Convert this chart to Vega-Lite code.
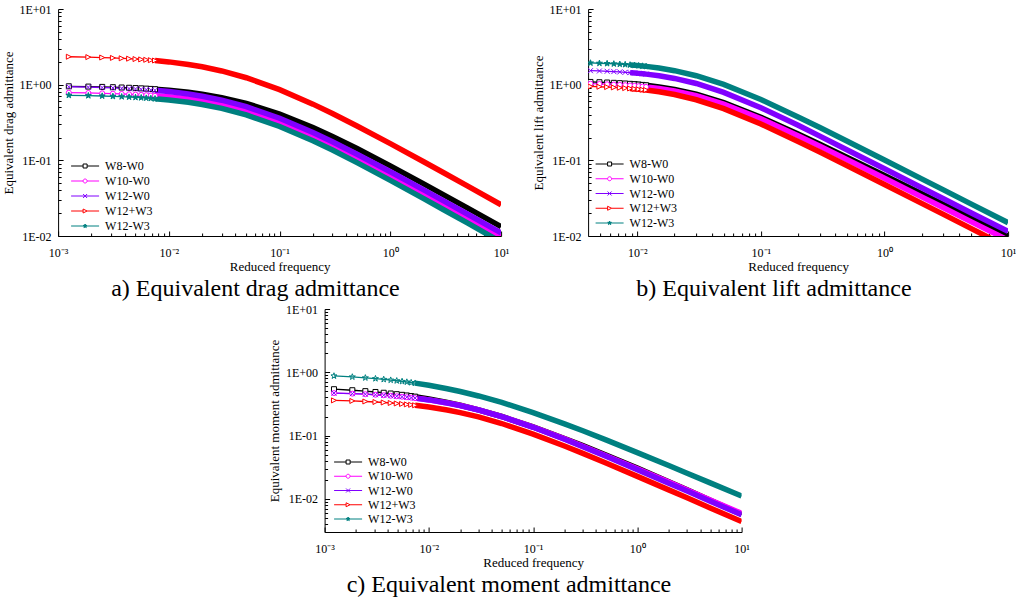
{
"$schema": "https://vega.github.io/schema/vega-lite/v6.json",
"padding": {"left": 2, "top": 3, "right": 0, "bottom": 0},
"config": {
  "view": {"stroke": null},
  "font": "Liberation Serif",
  "axis": {"domainColor": "black", "tickColor": "black", "labelColor": "black", "titleColor": "black", "labelFont": "Liberation Serif", "titleFont": "Liberation Serif", "labelFontSize": 12, "titleFontSize": 13, "titleFontWeight": "normal", "grid": false, "labelFlush": false, "labelOverlap": false, "domainWidth": 1, "tickWidth": 1}
},
"data": {"values": [
{"p":"a","s":"W8-W0","f":0.00125,"v":0.9519},{"p":"a","s":"W8-W0","f":0.001875,"v":0.9431},{"p":"a","s":"W8-W0","f":0.0025,"v":0.9345},{"p":"a","s":"W8-W0","f":0.003125,"v":0.926},{"p":"a","s":"W8-W0","f":0.00375,"v":0.9178},{"p":"a","s":"W8-W0","f":0.004375,"v":0.9097},{"p":"a","s":"W8-W0","f":0.005,"v":0.9017},{"p":"a","s":"W8-W0","f":0.005625,"v":0.8939},{"p":"a","s":"W8-W0","f":0.00625,"v":0.8863},{"p":"a","s":"W8-W0","f":0.006875,"v":0.8788},{"p":"a","s":"W8-W0","f":0.0075,"v":0.8714},{"p":"a","s":"W8-W0","f":0.01,"v":0.8433},{"p":"a","s":"W8-W0","f":0.015,"v":0.7926},{"p":"a","s":"W8-W0","f":0.02,"v":0.7482},{"p":"a","s":"W8-W0","f":0.03,"v":0.6741},{"p":"a","s":"W8-W0","f":0.05,"v":0.5655},{"p":"a","s":"W8-W0","f":0.1,"v":0.4095},{"p":"a","s":"W8-W0","f":0.2,"v":0.2715},{"p":"a","s":"W8-W0","f":0.3,"v":0.2068},{"p":"a","s":"W8-W0","f":0.5,"v":0.1432},{"p":"a","s":"W8-W0","f":1,"v":0.0845},{"p":"a","s":"W8-W0","f":2,"v":0.0489},{"p":"a","s":"W8-W0","f":3,"v":0.0353},{"p":"a","s":"W8-W0","f":5,"v":0.0234},{"p":"a","s":"W8-W0","f":10,"v":0.0133},
{"p":"a","s":"W10-W0","f":0.00125,"v":0.7842},{"p":"a","s":"W10-W0","f":0.001875,"v":0.7766},{"p":"a","s":"W10-W0","f":0.0025,"v":0.7691},{"p":"a","s":"W10-W0","f":0.003125,"v":0.7617},{"p":"a","s":"W10-W0","f":0.00375,"v":0.7545},{"p":"a","s":"W10-W0","f":0.004375,"v":0.7475},{"p":"a","s":"W10-W0","f":0.005,"v":0.7406},{"p":"a","s":"W10-W0","f":0.005625,"v":0.7339},{"p":"a","s":"W10-W0","f":0.00625,"v":0.7272},{"p":"a","s":"W10-W0","f":0.006875,"v":0.7208},{"p":"a","s":"W10-W0","f":0.0075,"v":0.7144},{"p":"a","s":"W10-W0","f":0.01,"v":0.6901},{"p":"a","s":"W10-W0","f":0.015,"v":0.6466},{"p":"a","s":"W10-W0","f":0.02,"v":0.6087},{"p":"a","s":"W10-W0","f":0.03,"v":0.5457},{"p":"a","s":"W10-W0","f":0.05,"v":0.4542},{"p":"a","s":"W10-W0","f":0.1,"v":0.3249},{"p":"a","s":"W10-W0","f":0.2,"v":0.2125},{"p":"a","s":"W10-W0","f":0.3,"v":0.1605},{"p":"a","s":"W10-W0","f":0.5,"v":0.11},{"p":"a","s":"W10-W0","f":1,"v":0.064},{"p":"a","s":"W10-W0","f":2,"v":0.0365},{"p":"a","s":"W10-W0","f":3,"v":0.0261},{"p":"a","s":"W10-W0","f":5,"v":0.0171},{"p":"a","s":"W10-W0","f":10,"v":0.0096},
{"p":"a","s":"W12-W0","f":0.00125,"v":0.9379},{"p":"a","s":"W12-W0","f":0.001875,"v":0.9272},{"p":"a","s":"W12-W0","f":0.0025,"v":0.9168},{"p":"a","s":"W12-W0","f":0.003125,"v":0.9067},{"p":"a","s":"W12-W0","f":0.00375,"v":0.8968},{"p":"a","s":"W12-W0","f":0.004375,"v":0.8871},{"p":"a","s":"W12-W0","f":0.005,"v":0.8777},{"p":"a","s":"W12-W0","f":0.005625,"v":0.8685},{"p":"a","s":"W12-W0","f":0.00625,"v":0.8595},{"p":"a","s":"W12-W0","f":0.006875,"v":0.8507},{"p":"a","s":"W12-W0","f":0.0075,"v":0.8421},{"p":"a","s":"W12-W0","f":0.01,"v":0.8096},{"p":"a","s":"W12-W0","f":0.015,"v":0.7522},{"p":"a","s":"W12-W0","f":0.02,"v":0.7031},{"p":"a","s":"W12-W0","f":0.03,"v":0.6235},{"p":"a","s":"W12-W0","f":0.05,"v":0.5116},{"p":"a","s":"W12-W0","f":0.1,"v":0.3598},{"p":"a","s":"W12-W0","f":0.2,"v":0.2331},{"p":"a","s":"W12-W0","f":0.3,"v":0.1758},{"p":"a","s":"W12-W0","f":0.5,"v":0.1206},{"p":"a","s":"W12-W0","f":1,"v":0.0706},{"p":"a","s":"W12-W0","f":2,"v":0.0407},{"p":"a","s":"W12-W0","f":3,"v":0.0294},{"p":"a","s":"W12-W0","f":5,"v":0.0194},{"p":"a","s":"W12-W0","f":10,"v":0.011},
{"p":"a","s":"W12+W3","f":0.00125,"v":2.34},{"p":"a","s":"W12+W3","f":0.001875,"v":2.312},{"p":"a","s":"W12+W3","f":0.0025,"v":2.284},{"p":"a","s":"W12+W3","f":0.003125,"v":2.257},{"p":"a","s":"W12+W3","f":0.00375,"v":2.23},{"p":"a","s":"W12+W3","f":0.004375,"v":2.205},{"p":"a","s":"W12+W3","f":0.005,"v":2.18},{"p":"a","s":"W12+W3","f":0.005625,"v":2.155},{"p":"a","s":"W12+W3","f":0.00625,"v":2.131},{"p":"a","s":"W12+W3","f":0.006875,"v":2.108},{"p":"a","s":"W12+W3","f":0.0075,"v":2.085},{"p":"a","s":"W12+W3","f":0.01,"v":2.0},{"p":"a","s":"W12+W3","f":0.015,"v":1.849},{"p":"a","s":"W12+W3","f":0.02,"v":1.722},{"p":"a","s":"W12+W3","f":0.03,"v":1.518},{"p":"a","s":"W12+W3","f":0.05,"v":1.235},{"p":"a","s":"W12+W3","f":0.1,"v":0.86},{"p":"a","s":"W12+W3","f":0.2,"v":0.553},{"p":"a","s":"W12+W3","f":0.3,"v":0.416},{"p":"a","s":"W12+W3","f":0.5,"v":0.2846},{"p":"a","s":"W12+W3","f":1,"v":0.1662},{"p":"a","s":"W12+W3","f":2,"v":0.0957},{"p":"a","s":"W12+W3","f":3,"v":0.069},{"p":"a","s":"W12+W3","f":5,"v":0.0456},{"p":"a","s":"W12+W3","f":10,"v":0.0259},
{"p":"a","s":"W12-W3","f":0.00125,"v":0.724},{"p":"a","s":"W12-W3","f":0.001875,"v":0.7161},{"p":"a","s":"W12-W3","f":0.0025,"v":0.7084},{"p":"a","s":"W12-W3","f":0.003125,"v":0.7009},{"p":"a","s":"W12-W3","f":0.00375,"v":0.6935},{"p":"a","s":"W12-W3","f":0.004375,"v":0.6863},{"p":"a","s":"W12-W3","f":0.005,"v":0.6792},{"p":"a","s":"W12-W3","f":0.005625,"v":0.6723},{"p":"a","s":"W12-W3","f":0.00625,"v":0.6655},{"p":"a","s":"W12-W3","f":0.006875,"v":0.6589},{"p":"a","s":"W12-W3","f":0.0075,"v":0.6524},{"p":"a","s":"W12-W3","f":0.01,"v":0.6273},{"p":"a","s":"W12-W3","f":0.015,"v":0.5839},{"p":"a","s":"W12-W3","f":0.02,"v":0.5463},{"p":"a","s":"W12-W3","f":0.03,"v":0.4853},{"p":"a","s":"W12-W3","f":0.05,"v":0.3983},{"p":"a","s":"W12-W3","f":0.1,"v":0.2803},{"p":"a","s":"W12-W3","f":0.2,"v":0.1815},{"p":"a","s":"W12-W3","f":0.3,"v":0.1369},{"p":"a","s":"W12-W3","f":0.5,"v":0.0932},{"p":"a","s":"W12-W3","f":1,"v":0.0544},{"p":"a","s":"W12-W3","f":2,"v":0.0312},{"p":"a","s":"W12-W3","f":3,"v":0.0224},{"p":"a","s":"W12-W3","f":5,"v":0.0148},{"p":"a","s":"W12-W3","f":10,"v":0.0083},
{"p":"b","s":"W8-W0","f":0.00418,"v":1.0861},{"p":"b","s":"W8-W0","f":0.00494,"v":1.077},{"p":"b","s":"W8-W0","f":0.0057,"v":1.0674},{"p":"b","s":"W8-W0","f":0.00646,"v":1.0574},{"p":"b","s":"W8-W0","f":0.00722,"v":1.0471},{"p":"b","s":"W8-W0","f":0.00798,"v":1.0365},{"p":"b","s":"W8-W0","f":0.00874,"v":1.0258},{"p":"b","s":"W8-W0","f":0.0095,"v":1.0148},{"p":"b","s":"W8-W0","f":0.01026,"v":1.0038},{"p":"b","s":"W8-W0","f":0.01102,"v":0.9928},{"p":"b","s":"W8-W0","f":0.01178,"v":0.9817},{"p":"b","s":"W8-W0","f":0.015,"v":0.935},{"p":"b","s":"W8-W0","f":0.02,"v":0.8659},{"p":"b","s":"W8-W0","f":0.03,"v":0.7466},{"p":"b","s":"W8-W0","f":0.05,"v":0.5785},{"p":"b","s":"W8-W0","f":0.1,"v":0.3711},{"p":"b","s":"W8-W0","f":0.2,"v":0.223},{"p":"b","s":"W8-W0","f":0.3,"v":0.1632},{"p":"b","s":"W8-W0","f":0.5,"v":0.1093},{"p":"b","s":"W8-W0","f":1,"v":0.063},{"p":"b","s":"W8-W0","f":2,"v":0.0363},{"p":"b","s":"W8-W0","f":3,"v":0.0262},{"p":"b","s":"W8-W0","f":5,"v":0.0174},{"p":"b","s":"W8-W0","f":10,"v":0.01},
{"p":"b","s":"W10-W0","f":0.00418,"v":1.0296},{"p":"b","s":"W10-W0","f":0.00494,"v":1.0214},{"p":"b","s":"W10-W0","f":0.0057,"v":1.0127},{"p":"b","s":"W10-W0","f":0.00646,"v":1.0036},{"p":"b","s":"W10-W0","f":0.00722,"v":0.9943},{"p":"b","s":"W10-W0","f":0.00798,"v":0.9847},{"p":"b","s":"W10-W0","f":0.00874,"v":0.9749},{"p":"b","s":"W10-W0","f":0.0095,"v":0.9649},{"p":"b","s":"W10-W0","f":0.01026,"v":0.9549},{"p":"b","s":"W10-W0","f":0.01102,"v":0.9448},{"p":"b","s":"W10-W0","f":0.01178,"v":0.9346},{"p":"b","s":"W10-W0","f":0.015,"v":0.8917},{"p":"b","s":"W10-W0","f":0.02,"v":0.8276},{"p":"b","s":"W10-W0","f":0.03,"v":0.7155},{"p":"b","s":"W10-W0","f":0.05,"v":0.5552},{"p":"b","s":"W10-W0","f":0.1,"v":0.3548},{"p":"b","s":"W10-W0","f":0.2,"v":0.2113},{"p":"b","s":"W10-W0","f":0.3,"v":0.1536},{"p":"b","s":"W10-W0","f":0.5,"v":0.1019},{"p":"b","s":"W10-W0","f":1,"v":0.058},{"p":"b","s":"W10-W0","f":2,"v":0.0329},{"p":"b","s":"W10-W0","f":3,"v":0.0236},{"p":"b","s":"W10-W0","f":5,"v":0.0155},{"p":"b","s":"W10-W0","f":10,"v":0.0088},
{"p":"b","s":"W12-W0","f":0.00418,"v":1.53},{"p":"b","s":"W12-W0","f":0.00494,"v":1.517},{"p":"b","s":"W12-W0","f":0.0057,"v":1.503},{"p":"b","s":"W12-W0","f":0.00646,"v":1.488},{"p":"b","s":"W12-W0","f":0.00722,"v":1.473},{"p":"b","s":"W12-W0","f":0.00798,"v":1.458},{"p":"b","s":"W12-W0","f":0.00874,"v":1.443},{"p":"b","s":"W12-W0","f":0.0095,"v":1.427},{"p":"b","s":"W12-W0","f":0.01026,"v":1.41},{"p":"b","s":"W12-W0","f":0.01102,"v":1.394},{"p":"b","s":"W12-W0","f":0.01178,"v":1.378},{"p":"b","s":"W12-W0","f":0.015,"v":1.31},{"p":"b","s":"W12-W0","f":0.02,"v":1.209},{"p":"b","s":"W12-W0","f":0.03,"v":1.037},{"p":"b","s":"W12-W0","f":0.05,"v":0.791},{"p":"b","s":"W12-W0","f":0.1,"v":0.496},{"p":"b","s":"W12-W0","f":0.2,"v":0.2906},{"p":"b","s":"W12-W0","f":0.3,"v":0.2087},{"p":"b","s":"W12-W0","f":0.5,"v":0.1369},{"p":"b","s":"W12-W0","f":1,"v":0.0773},{"p":"b","s":"W12-W0","f":2,"v":0.0435},{"p":"b","s":"W12-W0","f":3,"v":0.0311},{"p":"b","s":"W12-W0","f":5,"v":0.0203},{"p":"b","s":"W12-W0","f":10,"v":0.0115},
{"p":"b","s":"W12+W3","f":0.00418,"v":0.9474},{"p":"b","s":"W12+W3","f":0.00494,"v":0.9387},{"p":"b","s":"W12+W3","f":0.0057,"v":0.9295},{"p":"b","s":"W12+W3","f":0.00646,"v":0.92},{"p":"b","s":"W12+W3","f":0.00722,"v":0.9101},{"p":"b","s":"W12+W3","f":0.00798,"v":0.9001},{"p":"b","s":"W12+W3","f":0.00874,"v":0.8899},{"p":"b","s":"W12+W3","f":0.0095,"v":0.8795},{"p":"b","s":"W12+W3","f":0.01026,"v":0.8692},{"p":"b","s":"W12+W3","f":0.01102,"v":0.8587},{"p":"b","s":"W12+W3","f":0.01178,"v":0.8483},{"p":"b","s":"W12+W3","f":0.015,"v":0.8046},{"p":"b","s":"W12+W3","f":0.02,"v":0.7405},{"p":"b","s":"W12+W3","f":0.03,"v":0.6317},{"p":"b","s":"W12+W3","f":0.05,"v":0.4819},{"p":"b","s":"W12+W3","f":0.1,"v":0.3024},{"p":"b","s":"W12+W3","f":0.2,"v":0.1778},{"p":"b","s":"W12+W3","f":0.3,"v":0.1285},{"p":"b","s":"W12+W3","f":0.5,"v":0.0848},{"p":"b","s":"W12+W3","f":1,"v":0.0479},{"p":"b","s":"W12+W3","f":2,"v":0.027},{"p":"b","s":"W12+W3","f":3,"v":0.0193},{"p":"b","s":"W12+W3","f":5,"v":0.0126},{"p":"b","s":"W12+W3","f":10,"v":0.0071},
{"p":"b","s":"W12-W3","f":0.00418,"v":1.937},{"p":"b","s":"W12-W3","f":0.00494,"v":1.92},{"p":"b","s":"W12-W3","f":0.0057,"v":1.903},{"p":"b","s":"W12-W3","f":0.00646,"v":1.884},{"p":"b","s":"W12-W3","f":0.00722,"v":1.865},{"p":"b","s":"W12-W3","f":0.00798,"v":1.846},{"p":"b","s":"W12-W3","f":0.00874,"v":1.826},{"p":"b","s":"W12-W3","f":0.0095,"v":1.806},{"p":"b","s":"W12-W3","f":0.01026,"v":1.785},{"p":"b","s":"W12-W3","f":0.01102,"v":1.765},{"p":"b","s":"W12-W3","f":0.01178,"v":1.744},{"p":"b","s":"W12-W3","f":0.015,"v":1.658},{"p":"b","s":"W12-W3","f":0.02,"v":1.531},{"p":"b","s":"W12-W3","f":0.03,"v":1.313},{"p":"b","s":"W12-W3","f":0.05,"v":1.008},{"p":"b","s":"W12-W3","f":0.1,"v":0.636},{"p":"b","s":"W12-W3","f":0.2,"v":0.375},{"p":"b","s":"W12-W3","f":0.3,"v":0.2711},{"p":"b","s":"W12-W3","f":0.5,"v":0.1789},{"p":"b","s":"W12-W3","f":1,"v":0.1011},{"p":"b","s":"W12-W3","f":2,"v":0.0569},{"p":"b","s":"W12-W3","f":3,"v":0.0407},{"p":"b","s":"W12-W3","f":5,"v":0.0266},{"p":"b","s":"W12-W3","f":10,"v":0.015},
{"p":"c","s":"W8-W0","f":0.00123,"v":0.5406},{"p":"c","s":"W8-W0","f":0.001845,"v":0.5209},{"p":"c","s":"W8-W0","f":0.00246,"v":0.5039},{"p":"c","s":"W8-W0","f":0.003075,"v":0.4888},{"p":"c","s":"W8-W0","f":0.00369,"v":0.4751},{"p":"c","s":"W8-W0","f":0.004305,"v":0.4626},{"p":"c","s":"W8-W0","f":0.00492,"v":0.4512},{"p":"c","s":"W8-W0","f":0.005535,"v":0.4406},{"p":"c","s":"W8-W0","f":0.00615,"v":0.4307},{"p":"c","s":"W8-W0","f":0.006765,"v":0.4214},{"p":"c","s":"W8-W0","f":0.00738,"v":0.4127},{"p":"c","s":"W8-W0","f":0.01,"v":0.3808},{"p":"c","s":"W8-W0","f":0.015,"v":0.3353},{"p":"c","s":"W8-W0","f":0.02,"v":0.302},{"p":"c","s":"W8-W0","f":0.03,"v":0.2555},{"p":"c","s":"W8-W0","f":0.05,"v":0.2004},{"p":"c","s":"W8-W0","f":0.1,"v":0.1373},{"p":"c","s":"W8-W0","f":0.2,"v":0.0901},{"p":"c","s":"W8-W0","f":0.3,"v":0.0694},{"p":"c","s":"W8-W0","f":0.5,"v":0.0494},{"p":"c","s":"W8-W0","f":1,"v":0.0307},{"p":"c","s":"W8-W0","f":2,"v":0.0186},{"p":"c","s":"W8-W0","f":3,"v":0.0139},{"p":"c","s":"W8-W0","f":5,"v":0.0095},{"p":"c","s":"W8-W0","f":10,"v":0.0057},
{"p":"c","s":"W10-W0","f":0.00123,"v":0.4695},{"p":"c","s":"W10-W0","f":0.001845,"v":0.46},{"p":"c","s":"W10-W0","f":0.00246,"v":0.4509},{"p":"c","s":"W10-W0","f":0.003075,"v":0.4423},{"p":"c","s":"W10-W0","f":0.00369,"v":0.434},{"p":"c","s":"W10-W0","f":0.004305,"v":0.4261},{"p":"c","s":"W10-W0","f":0.00492,"v":0.4186},{"p":"c","s":"W10-W0","f":0.005535,"v":0.4113},{"p":"c","s":"W10-W0","f":0.00615,"v":0.4044},{"p":"c","s":"W10-W0","f":0.006765,"v":0.3977},{"p":"c","s":"W10-W0","f":0.00738,"v":0.3913},{"p":"c","s":"W10-W0","f":0.01,"v":0.3665},{"p":"c","s":"W10-W0","f":0.015,"v":0.3283},{"p":"c","s":"W10-W0","f":0.02,"v":0.2985},{"p":"c","s":"W10-W0","f":0.03,"v":0.2546},{"p":"c","s":"W10-W0","f":0.05,"v":0.2003},{"p":"c","s":"W10-W0","f":0.1,"v":0.1365},{"p":"c","s":"W10-W0","f":0.2,"v":0.0887},{"p":"c","s":"W10-W0","f":0.3,"v":0.068},{"p":"c","s":"W10-W0","f":0.5,"v":0.0481},{"p":"c","s":"W10-W0","f":1,"v":0.0298},{"p":"c","s":"W10-W0","f":2,"v":0.0184},{"p":"c","s":"W10-W0","f":3,"v":0.0138},{"p":"c","s":"W10-W0","f":5,"v":0.0096},{"p":"c","s":"W10-W0","f":10,"v":0.0059},
{"p":"c","s":"W12-W0","f":0.00123,"v":0.4695},{"p":"c","s":"W12-W0","f":0.001845,"v":0.46},{"p":"c","s":"W12-W0","f":0.00246,"v":0.4509},{"p":"c","s":"W12-W0","f":0.003075,"v":0.4423},{"p":"c","s":"W12-W0","f":0.00369,"v":0.434},{"p":"c","s":"W12-W0","f":0.004305,"v":0.4261},{"p":"c","s":"W12-W0","f":0.00492,"v":0.4185},{"p":"c","s":"W12-W0","f":0.005535,"v":0.4113},{"p":"c","s":"W12-W0","f":0.00615,"v":0.4043},{"p":"c","s":"W12-W0","f":0.006765,"v":0.3976},{"p":"c","s":"W12-W0","f":0.00738,"v":0.3912},{"p":"c","s":"W12-W0","f":0.01,"v":0.3664},{"p":"c","s":"W12-W0","f":0.015,"v":0.328},{"p":"c","s":"W12-W0","f":0.02,"v":0.298},{"p":"c","s":"W12-W0","f":0.03,"v":0.2539},{"p":"c","s":"W12-W0","f":0.05,"v":0.1993},{"p":"c","s":"W12-W0","f":0.1,"v":0.1353},{"p":"c","s":"W12-W0","f":0.2,"v":0.0875},{"p":"c","s":"W12-W0","f":0.3,"v":0.0668},{"p":"c","s":"W12-W0","f":0.5,"v":0.0471},{"p":"c","s":"W12-W0","f":1,"v":0.029},{"p":"c","s":"W12-W0","f":2,"v":0.0177},{"p":"c","s":"W12-W0","f":3,"v":0.0133},{"p":"c","s":"W12-W0","f":5,"v":0.0092},{"p":"c","s":"W12-W0","f":10,"v":0.0056},
{"p":"c","s":"W12+W3","f":0.00123,"v":0.3598},{"p":"c","s":"W12+W3","f":0.001845,"v":0.3527},{"p":"c","s":"W12+W3","f":0.00246,"v":0.346},{"p":"c","s":"W12+W3","f":0.003075,"v":0.3396},{"p":"c","s":"W12+W3","f":0.00369,"v":0.3334},{"p":"c","s":"W12+W3","f":0.004305,"v":0.3275},{"p":"c","s":"W12+W3","f":0.00492,"v":0.3218},{"p":"c","s":"W12+W3","f":0.005535,"v":0.3164},{"p":"c","s":"W12+W3","f":0.00615,"v":0.3112},{"p":"c","s":"W12+W3","f":0.006765,"v":0.3062},{"p":"c","s":"W12+W3","f":0.00738,"v":0.3014},{"p":"c","s":"W12+W3","f":0.01,"v":0.2827},{"p":"c","s":"W12+W3","f":0.015,"v":0.2537},{"p":"c","s":"W12+W3","f":0.02,"v":0.2309},{"p":"c","s":"W12+W3","f":0.03,"v":0.1972},{"p":"c","s":"W12+W3","f":0.05,"v":0.1552},{"p":"c","s":"W12+W3","f":0.1,"v":0.1057},{"p":"c","s":"W12+W3","f":0.2,"v":0.0684},{"p":"c","s":"W12+W3","f":0.3,"v":0.0523},{"p":"c","s":"W12+W3","f":0.5,"v":0.0369},{"p":"c","s":"W12+W3","f":1,"v":0.0227},{"p":"c","s":"W12+W3","f":2,"v":0.0139},{"p":"c","s":"W12+W3","f":3,"v":0.0104},{"p":"c","s":"W12+W3","f":5,"v":0.0072},{"p":"c","s":"W12+W3","f":10,"v":0.0044},
{"p":"c","s":"W12-W3","f":0.00123,"v":0.8764},{"p":"c","s":"W12-W3","f":0.001845,"v":0.8455},{"p":"c","s":"W12-W3","f":0.00246,"v":0.8186},{"p":"c","s":"W12-W3","f":0.003075,"v":0.7947},{"p":"c","s":"W12-W3","f":0.00369,"v":0.7731},{"p":"c","s":"W12-W3","f":0.004305,"v":0.7534},{"p":"c","s":"W12-W3","f":0.00492,"v":0.7352},{"p":"c","s":"W12-W3","f":0.005535,"v":0.7184},{"p":"c","s":"W12-W3","f":0.00615,"v":0.7027},{"p":"c","s":"W12-W3","f":0.006765,"v":0.688},{"p":"c","s":"W12-W3","f":0.00738,"v":0.6742},{"p":"c","s":"W12-W3","f":0.01,"v":0.6235},{"p":"c","s":"W12-W3","f":0.015,"v":0.5509},{"p":"c","s":"W12-W3","f":0.02,"v":0.4977},{"p":"c","s":"W12-W3","f":0.03,"v":0.4229},{"p":"c","s":"W12-W3","f":0.05,"v":0.334},{"p":"c","s":"W12-W3","f":0.1,"v":0.2313},{"p":"c","s":"W12-W3","f":0.2,"v":0.1536},{"p":"c","s":"W12-W3","f":0.3,"v":0.1191},{"p":"c","s":"W12-W3","f":0.5,"v":0.0856},{"p":"c","s":"W12-W3","f":1,"v":0.0539},{"p":"c","s":"W12-W3","f":2,"v":0.0337},{"p":"c","s":"W12-W3","f":3,"v":0.0255},{"p":"c","s":"W12-W3","f":5,"v":0.0179},{"p":"c","s":"W12-W3","f":10,"v":0.0111}
]},
"vconcat": [
 {"hconcat": [
  {
   "width": 443, "height": 227,
   "title": {"text": "a) Equivalent drag admittance", "orient": "bottom", "anchor": "middle", "frame": "bounds", "font": "Liberation Serif", "fontSize": 24, "fontWeight": "normal", "color": "black", "offset": 4},
   "transform": [{"filter": "datum.p == 'a'"}],
   "encoding": {
     "x": {"field": "f", "type": "quantitative", "scale": {"type": "log", "domain": [0.001, 10], "nice": false}, "axis": null},
     "y": {"field": "v", "type": "quantitative", "scale": {"type": "log", "domain": [0.01, 10], "nice": false}, "axis": null}
   },
   "layer": [
    {"mark": {"type": "line", "strokeWidth": 1.3, "clip": true},
     "encoding": {
       "x": {"field": "f", "type": "quantitative", "scale": {"type": "log", "domain": [0.001, 10], "nice": false},
             "axis": {"orient": "bottom", "values": [0.001, 0.01, 0.1, 1, 10], "tickSize": -5, "labelPadding": 16, "labelExpr": "datum.value < 0.005 ? '10⁻³' : datum.value < 0.05 ? '10⁻²' : datum.value < 0.5 ? '10⁻¹' : datum.value < 5 ? '10⁰' : '10¹'", "title": "Reduced frequency", "titlePadding": 2}},
       "y": {"field": "v", "type": "quantitative", "scale": {"type": "log", "domain": [0.01, 10], "nice": false},
             "axis": {"orient": "left", "values": [0.01, 0.1, 1, 10], "tickSize": -5, "labelPadding": 12, "labelExpr": "datum.value > 5 ? '1E+01' : datum.value > 0.5 ? '1E+00' : datum.value > 0.05 ? '1E-01' : '1E-02'", "title": "Equivalent drag admittance", "titlePadding": 4}},
       "color": {"field": "s", "type": "nominal", "scale": {"domain": ["W12-W3", "W12+W3", "W12-W0", "W10-W0", "W8-W0"], "range": ["#008080", "#FF0000", "#8000FF", "#FF00FF", "#000000"]}, "legend": null}
     }},
    {"transform": [{"filter": "datum.f >= 0.007"}],
     "mark": {"type": "line", "strokeWidth": 5.5, "clip": true},
     "encoding": {
       "x": {"field": "f", "type": "quantitative", "scale": {"type": "log", "domain": [0.001, 10], "nice": false},
             "axis": {"orient": "bottom", "values": [0.002,0.003,0.004,0.005,0.006,0.007,0.008,0.009,0.02,0.03,0.04,0.05,0.06,0.07,0.08,0.09,0.2,0.3,0.4,0.5,0.6,0.7,0.8,0.9,2,3,4,5,6,7,8,9], "tickSize": -3, "labels": false, "domain": false, "title": null}},
       "y": {"field": "v", "type": "quantitative", "scale": {"type": "log", "domain": [0.01, 10], "nice": false},
             "axis": {"orient": "left", "values": [0.02,0.03,0.04,0.05,0.06,0.07,0.08,0.09,0.2,0.3,0.4,0.5,0.6,0.7,0.8,0.9,2,3,4,5,6,7,8,9], "tickSize": -3, "labels": false, "domain": false, "title": null}},
       "color": {"field": "s", "type": "nominal", "scale": {"domain": ["W12-W3", "W12+W3", "W12-W0", "W10-W0", "W8-W0"], "range": ["#008080", "#FF0000", "#8000FF", "#FF00FF", "#000000"]}, "legend": null}
     }},
    {"transform": [{"filter": "datum.s == 'W8-W0' && datum.f <= 0.0076"}], "mark": {"type": "point", "shape": "square", "size": 25, "filled": true, "fill": "white", "stroke": "#000000", "strokeWidth": 1, "opacity": 1, "clip": true}},
    {"transform": [{"filter": "datum.s == 'W10-W0' && datum.f <= 0.0076"}], "mark": {"type": "point", "shape": "circle", "size": 25, "filled": true, "fill": "white", "stroke": "#FF00FF", "strokeWidth": 1, "opacity": 1, "clip": true}},
    {"transform": [{"filter": "datum.s == 'W12-W0' && datum.f <= 0.0076"}], "mark": {"type": "point", "shape": "M-1,-1L1,1M-1,1L1,-1", "size": 25, "filled": false, "stroke": "#8000FF", "strokeWidth": 1, "opacity": 1, "clip": true}},
    {"transform": [{"filter": "datum.s == 'W12+W3' && datum.f <= 0.0076"}], "mark": {"type": "point", "shape": "M-1,-1L1,0L-1,1Z", "size": 25, "filled": true, "fill": "white", "stroke": "#FF0000", "strokeWidth": 1, "opacity": 1, "clip": true}},
    {"transform": [{"filter": "datum.s == 'W12-W3' && datum.f <= 0.0076"}], "mark": {"type": "point", "shape": "M0,-1L0.235,-0.324L0.951,-0.309L0.38,0.124L0.588,0.809L0,0.4L-0.588,0.809L-0.38,0.124L-0.951,-0.309L-0.235,-0.324Z", "size": 40, "filled": true, "fill": "#008080", "stroke": "#008080", "strokeWidth": 1, "opacity": 1, "clip": true}},
    {"transform": [{"filter": "datum.f == 0.1"}],
     "mark": {"type": "point", "filled": false, "strokeWidth": 1, "opacity": 0, "clip": true},
     "encoding": {
       "stroke": {"field": "s", "type": "nominal", "scale": {"domain": ["W8-W0", "W10-W0", "W12-W0", "W12+W3", "W12-W3"], "range": ["#000000", "#FF00FF", "#8000FF", "#FF0000", "#008080"]},
                 "legend": {"orient": "none", "legendX": 21, "legendY": 151, "title": null, "labelFont": "Liberation Serif", "labelFontSize": 12, "labelColor": "black", "symbolSize": 16, "symbolStrokeWidth": 1, "symbolOpacity": 1, "labelOffset": 14, "rowPadding": 3, "padding": 0}},
       "shape": {"field": "s", "type": "nominal", "scale": {"domain": ["W8-W0", "W10-W0", "W12-W0", "W12+W3", "W12-W3"], "range": ["M-7,0H-1M1,0H7M-1,-1H1V1H-1Z", "M-7,0H-1M1,0H7M1,0A1,1,0,1,1,-1,0A1,1,0,1,1,1,0Z", "M-7,0H7M-1,-1L1,1M-1,1L1,-1", "M-7,0H-1M1,0H7M-1,-1L1,0L-1,1Z", "M-7,0H7M0,-1L0.235,-0.324L0.951,-0.309L0.38,0.124L0.588,0.809L0,0.4L-0.588,0.809L-0.38,0.124L-0.951,-0.309L-0.235,-0.324Z"]},
                 "legend": {"orient": "none", "legendX": 21, "legendY": 151, "title": null, "labelFont": "Liberation Serif", "labelFontSize": 12, "labelColor": "black", "symbolSize": 16, "symbolStrokeWidth": 1, "symbolOpacity": 1, "labelOffset": 14, "rowPadding": 3, "padding": 0}},
       "fill": {"field": "s", "type": "nominal", "scale": {"domain": ["W8-W0", "W10-W0", "W12-W0", "W12+W3", "W12-W3"], "range": ["white", "white", "white", "white", "#008080"]},
                 "legend": {"orient": "none", "legendX": 21, "legendY": 151, "title": null, "labelFont": "Liberation Serif", "labelFontSize": 12, "labelColor": "black", "symbolSize": 16, "symbolStrokeWidth": 1, "symbolOpacity": 1, "labelOffset": 14, "rowPadding": 3, "padding": 0}}
     }}
   ],
   "resolve": {"axis": {"x": "independent", "y": "independent"}}
  },
  {
   "width": 420, "height": 227,
   "title": {"text": "b) Equivalent lift admittance", "orient": "bottom", "anchor": "middle", "frame": "bounds", "font": "Liberation Serif", "fontSize": 24, "fontWeight": "normal", "color": "black", "offset": 4},
   "transform": [{"filter": "datum.p == 'b'"}],
   "encoding": {
     "x": {"field": "f", "type": "quantitative", "scale": {"type": "log", "domain": [0.004, 10], "nice": false}, "axis": null},
     "y": {"field": "v", "type": "quantitative", "scale": {"type": "log", "domain": [0.01, 10], "nice": false}, "axis": null}
   },
   "layer": [
    {"mark": {"type": "line", "strokeWidth": 1.3, "clip": true},
     "encoding": {
       "x": {"field": "f", "type": "quantitative", "scale": {"type": "log", "domain": [0.004, 10], "nice": false},
             "axis": {"orient": "bottom", "values": [0.01, 0.1, 1, 10], "tickSize": -5, "labelPadding": 16, "labelExpr": "datum.value < 0.005 ? '10⁻³' : datum.value < 0.05 ? '10⁻²' : datum.value < 0.5 ? '10⁻¹' : datum.value < 5 ? '10⁰' : '10¹'", "title": "Reduced frequency", "titlePadding": 2}},
       "y": {"field": "v", "type": "quantitative", "scale": {"type": "log", "domain": [0.01, 10], "nice": false},
             "axis": {"orient": "left", "values": [0.01, 0.1, 1, 10], "tickSize": -5, "labelPadding": 12, "labelExpr": "datum.value > 5 ? '1E+01' : datum.value > 0.5 ? '1E+00' : datum.value > 0.05 ? '1E-01' : '1E-02'", "title": "Equivalent lift admittance", "titlePadding": 4}},
       "color": {"field": "s", "type": "nominal", "scale": {"domain": ["W12-W3", "W12+W3", "W12-W0", "W10-W0", "W8-W0"], "range": ["#008080", "#FF0000", "#8000FF", "#FF00FF", "#000000"]}, "legend": null}
     }},
    {"transform": [{"filter": "datum.f >= 0.0085"}],
     "mark": {"type": "line", "strokeWidth": 5.5, "clip": true},
     "encoding": {
       "x": {"field": "f", "type": "quantitative", "scale": {"type": "log", "domain": [0.004, 10], "nice": false},
             "axis": {"orient": "bottom", "values": [0.005,0.006,0.007,0.008,0.009,0.02,0.03,0.04,0.05,0.06,0.07,0.08,0.09,0.2,0.3,0.4,0.5,0.6,0.7,0.8,0.9,2,3,4,5,6,7,8,9], "tickSize": -3, "labels": false, "domain": false, "title": null}},
       "y": {"field": "v", "type": "quantitative", "scale": {"type": "log", "domain": [0.01, 10], "nice": false},
             "axis": {"orient": "left", "values": [0.02,0.03,0.04,0.05,0.06,0.07,0.08,0.09,0.2,0.3,0.4,0.5,0.6,0.7,0.8,0.9,2,3,4,5,6,7,8,9], "tickSize": -3, "labels": false, "domain": false, "title": null}},
       "color": {"field": "s", "type": "nominal", "scale": {"domain": ["W12-W3", "W12+W3", "W12-W0", "W10-W0", "W8-W0"], "range": ["#008080", "#FF0000", "#8000FF", "#FF00FF", "#000000"]}, "legend": null}
     }},
    {"transform": [{"filter": "datum.s == 'W8-W0' && datum.f <= 0.012"}], "mark": {"type": "point", "shape": "square", "size": 25, "filled": true, "fill": "white", "stroke": "#000000", "strokeWidth": 1, "opacity": 1, "clip": true}},
    {"transform": [{"filter": "datum.s == 'W10-W0' && datum.f <= 0.012"}], "mark": {"type": "point", "shape": "circle", "size": 25, "filled": true, "fill": "white", "stroke": "#FF00FF", "strokeWidth": 1, "opacity": 1, "clip": true}},
    {"transform": [{"filter": "datum.s == 'W12-W0' && datum.f <= 0.012"}], "mark": {"type": "point", "shape": "M-1,-1L1,1M-1,1L1,-1", "size": 25, "filled": false, "stroke": "#8000FF", "strokeWidth": 1, "opacity": 1, "clip": true}},
    {"transform": [{"filter": "datum.s == 'W12+W3' && datum.f <= 0.012"}], "mark": {"type": "point", "shape": "M-1,-1L1,0L-1,1Z", "size": 25, "filled": true, "fill": "white", "stroke": "#FF0000", "strokeWidth": 1, "opacity": 1, "clip": true}},
    {"transform": [{"filter": "datum.s == 'W12-W3' && datum.f <= 0.012"}], "mark": {"type": "point", "shape": "M0,-1L0.235,-0.324L0.951,-0.309L0.38,0.124L0.588,0.809L0,0.4L-0.588,0.809L-0.38,0.124L-0.951,-0.309L-0.235,-0.324Z", "size": 40, "filled": true, "fill": "#008080", "stroke": "#008080", "strokeWidth": 1, "opacity": 1, "clip": true}},
    {"transform": [{"filter": "datum.f == 0.1"}],
     "mark": {"type": "point", "filled": false, "strokeWidth": 1, "opacity": 0, "clip": true},
     "encoding": {
       "stroke": {"field": "s", "type": "nominal", "scale": {"domain": ["W8-W0", "W10-W0", "W12-W0", "W12+W3", "W12-W3"], "range": ["#000000", "#FF00FF", "#8000FF", "#FF0000", "#008080"]},
                 "legend": {"orient": "none", "legendX": 15.5, "legendY": 149, "title": null, "labelFont": "Liberation Serif", "labelFontSize": 12, "labelColor": "black", "symbolSize": 16, "symbolStrokeWidth": 1, "symbolOpacity": 1, "labelOffset": 14, "rowPadding": 2.75, "padding": 0}},
       "shape": {"field": "s", "type": "nominal", "scale": {"domain": ["W8-W0", "W10-W0", "W12-W0", "W12+W3", "W12-W3"], "range": ["M-7,0H-1M1,0H7M-1,-1H1V1H-1Z", "M-7,0H-1M1,0H7M1,0A1,1,0,1,1,-1,0A1,1,0,1,1,1,0Z", "M-7,0H7M-1,-1L1,1M-1,1L1,-1", "M-7,0H-1M1,0H7M-1,-1L1,0L-1,1Z", "M-7,0H7M0,-1L0.235,-0.324L0.951,-0.309L0.38,0.124L0.588,0.809L0,0.4L-0.588,0.809L-0.38,0.124L-0.951,-0.309L-0.235,-0.324Z"]},
                 "legend": {"orient": "none", "legendX": 15.5, "legendY": 149, "title": null, "labelFont": "Liberation Serif", "labelFontSize": 12, "labelColor": "black", "symbolSize": 16, "symbolStrokeWidth": 1, "symbolOpacity": 1, "labelOffset": 14, "rowPadding": 2.75, "padding": 0}},
       "fill": {"field": "s", "type": "nominal", "scale": {"domain": ["W8-W0", "W10-W0", "W12-W0", "W12+W3", "W12-W3"], "range": ["white", "white", "white", "white", "#008080"]},
                 "legend": {"orient": "none", "legendX": 15.5, "legendY": 149, "title": null, "labelFont": "Liberation Serif", "labelFontSize": 12, "labelColor": "black", "symbolSize": 16, "symbolStrokeWidth": 1, "symbolOpacity": 1, "labelOffset": 14, "rowPadding": 2.75, "padding": 0}}
     }}
   ],
   "resolve": {"axis": {"x": "independent", "y": "independent"}}
  }
 ], "spacing": 22,
 "resolve": {"scale": {"color": "independent", "stroke": "independent", "shape": "independent", "fill": "independent"}, "legend": {"color": "independent", "stroke": "independent", "shape": "independent", "fill": "independent"}}},
 {
  "width": 417, "height": 223,
  "title": {"text": "c) Equivalent moment admittance", "orient": "bottom", "anchor": "middle", "frame": "bounds", "font": "Liberation Serif", "fontSize": 24, "fontWeight": "normal", "color": "black", "offset": 4},
  "transform": [{"filter": "datum.p == 'c'"}],
  "encoding": {
    "x": {"field": "f", "type": "quantitative", "scale": {"type": "log", "domain": [0.001, 10], "nice": false}, "axis": null},
    "y": {"field": "v", "type": "quantitative", "scale": {"type": "log", "domain": [0.003, 10], "nice": false}, "axis": null}
  },
  "layer": [
   {"mark": {"type": "line", "strokeWidth": 1.3, "clip": true},
    "encoding": {
      "x": {"field": "f", "type": "quantitative", "scale": {"type": "log", "domain": [0.001, 10], "nice": false},
            "axis": {"orient": "bottom", "values": [0.001, 0.01, 0.1, 1, 10], "tickSize": -5, "labelPadding": 16, "labelExpr": "datum.value < 0.005 ? '10⁻³' : datum.value < 0.05 ? '10⁻²' : datum.value < 0.5 ? '10⁻¹' : datum.value < 5 ? '10⁰' : '10¹'", "title": "Reduced frequency", "titlePadding": 2}},
      "y": {"field": "v", "type": "quantitative", "scale": {"type": "log", "domain": [0.003, 10], "nice": false},
            "axis": {"orient": "left", "values": [0.01, 0.1, 1, 10], "tickSize": -5, "labelPadding": 12, "labelExpr": "datum.value > 5 ? '1E+01' : datum.value > 0.5 ? '1E+00' : datum.value > 0.05 ? '1E-01' : '1E-02'", "title": "Equivalent moment admittance", "titlePadding": 4}},
      "color": {"field": "s", "type": "nominal", "scale": {"domain": ["W12-W3", "W12+W3", "W12-W0", "W10-W0", "W8-W0"], "range": ["#008080", "#FF0000", "#8000FF", "#FF00FF", "#000000"]}, "legend": null}
    }},
   {"transform": [{"filter": "datum.f >= 0.007"}],
    "mark": {"type": "line", "strokeWidth": 5.5, "clip": true},
    "encoding": {
      "x": {"field": "f", "type": "quantitative", "scale": {"type": "log", "domain": [0.001, 10], "nice": false},
            "axis": {"orient": "bottom", "values": [0.002,0.003,0.004,0.005,0.006,0.007,0.008,0.009,0.02,0.03,0.04,0.05,0.06,0.07,0.08,0.09,0.2,0.3,0.4,0.5,0.6,0.7,0.8,0.9,2,3,4,5,6,7,8,9], "tickSize": -3, "labels": false, "domain": false, "title": null}},
      "y": {"field": "v", "type": "quantitative", "scale": {"type": "log", "domain": [0.003, 10], "nice": false},
            "axis": {"orient": "left", "values": [0.004,0.005,0.006,0.007,0.008,0.009,0.02,0.03,0.04,0.05,0.06,0.07,0.08,0.09,0.2,0.3,0.4,0.5,0.6,0.7,0.8,0.9,2,3,4,5,6,7,8,9], "tickSize": -3, "labels": false, "domain": false, "title": null}},
      "color": {"field": "s", "type": "nominal", "scale": {"domain": ["W12-W3", "W12+W3", "W12-W0", "W10-W0", "W8-W0"], "range": ["#008080", "#FF0000", "#8000FF", "#FF00FF", "#000000"]}, "legend": null}
    }},
   {"transform": [{"filter": "datum.s == 'W8-W0' && datum.f <= 0.0075"}], "mark": {"type": "point", "shape": "square", "size": 25, "filled": true, "fill": "white", "stroke": "#000000", "strokeWidth": 1, "opacity": 1, "clip": true}},
   {"transform": [{"filter": "datum.s == 'W10-W0' && datum.f <= 0.0075"}], "mark": {"type": "point", "shape": "circle", "size": 25, "filled": true, "fill": "white", "stroke": "#FF00FF", "strokeWidth": 1, "opacity": 1, "clip": true}},
   {"transform": [{"filter": "datum.s == 'W12-W0' && datum.f <= 0.0075"}], "mark": {"type": "point", "shape": "M-1,-1L1,1M-1,1L1,-1", "size": 25, "filled": false, "stroke": "#8000FF", "strokeWidth": 1, "opacity": 1, "clip": true}},
   {"transform": [{"filter": "datum.s == 'W12+W3' && datum.f <= 0.0075"}], "mark": {"type": "point", "shape": "M-1,-1L1,0L-1,1Z", "size": 25, "filled": true, "fill": "white", "stroke": "#FF0000", "strokeWidth": 1, "opacity": 1, "clip": true}},
   {"transform": [{"filter": "datum.s == 'W12-W3' && datum.f <= 0.0075"}], "mark": {"type": "point", "shape": "M0,-1L0.235,-0.324L0.951,-0.309L0.38,0.124L0.588,0.809L0,0.4L-0.588,0.809L-0.38,0.124L-0.951,-0.309L-0.235,-0.324Z", "size": 40, "filled": false, "stroke": "#008080", "strokeWidth": 1, "opacity": 1, "clip": true}},
   {"transform": [{"filter": "datum.f == 0.1"}],
    "mark": {"type": "point", "filled": false, "strokeWidth": 1, "opacity": 0, "clip": true},
    "encoding": {
      "stroke": {"field": "s", "type": "nominal", "scale": {"domain": ["W8-W0", "W10-W0", "W12-W0", "W12+W3", "W12-W3"], "range": ["#000000", "#FF00FF", "#8000FF", "#FF0000", "#008080"]},
                "legend": {"orient": "none", "legendX": 17.5, "legendY": 147, "title": null, "labelFont": "Liberation Serif", "labelFontSize": 12, "labelColor": "black", "symbolSize": 16, "symbolStrokeWidth": 1, "symbolOpacity": 1, "labelOffset": 14, "rowPadding": 2.25, "padding": 0}},
      "shape": {"field": "s", "type": "nominal", "scale": {"domain": ["W8-W0", "W10-W0", "W12-W0", "W12+W3", "W12-W3"], "range": ["M-7,0H-1M1,0H7M-1,-1H1V1H-1Z", "M-7,0H-1M1,0H7M1,0A1,1,0,1,1,-1,0A1,1,0,1,1,1,0Z", "M-7,0H7M-1,-1L1,1M-1,1L1,-1", "M-7,0H-1M1,0H7M-1,-1L1,0L-1,1Z", "M-7,0H7M0,-1L0.235,-0.324L0.951,-0.309L0.38,0.124L0.588,0.809L0,0.4L-0.588,0.809L-0.38,0.124L-0.951,-0.309L-0.235,-0.324Z"]},
                "legend": {"orient": "none", "legendX": 17.5, "legendY": 147, "title": null, "labelFont": "Liberation Serif", "labelFontSize": 12, "labelColor": "black", "symbolSize": 16, "symbolStrokeWidth": 1, "symbolOpacity": 1, "labelOffset": 14, "rowPadding": 2.25, "padding": 0}},
      "fill": {"field": "s", "type": "nominal", "scale": {"domain": ["W8-W0", "W10-W0", "W12-W0", "W12+W3", "W12-W3"], "range": ["white", "white", "white", "white", "#008080"]},
                "legend": {"orient": "none", "legendX": 17.5, "legendY": 147, "title": null, "labelFont": "Liberation Serif", "labelFontSize": 12, "labelColor": "black", "symbolSize": 16, "symbolStrokeWidth": 1, "symbolOpacity": 1, "labelOffset": 14, "rowPadding": 2.25, "padding": 0}}
    }}
  ],
  "resolve": {"axis": {"x": "independent", "y": "independent"}}
 }
],
"spacing": 2,
"center": true,
"resolve": {"scale": {"color": "independent", "stroke": "independent", "shape": "independent", "fill": "independent"}, "legend": {"color": "independent", "stroke": "independent", "shape": "independent", "fill": "independent"}}
}
